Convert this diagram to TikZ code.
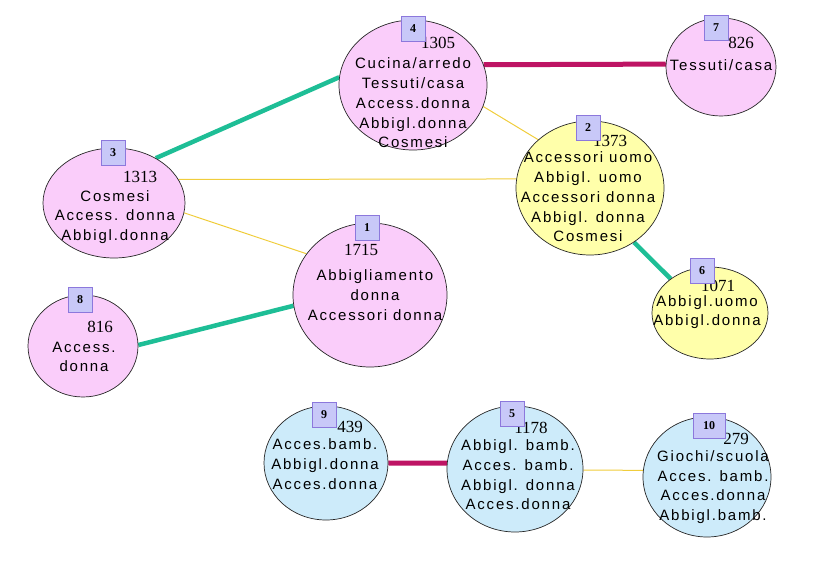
\documentclass[tikz,border=0pt]{standalone}
\usepackage{fontspec}
\setmainfont{Liberation Sans}
\newfontfamily\itemfont{Liberation Sans}[LetterSpace=12]
\newfontfamily\numfont{Liberation Serif}
\usetikzlibrary{shapes.geometric,backgrounds}

\definecolor{pinkfill}{RGB}{250,205,250}
\definecolor{yellowfill}{RGB}{255,255,170}
\definecolor{bluefill}{RGB}{205,235,250}
\definecolor{tagfill}{RGB}{200,200,248}
\definecolor{tagline}{RGB}{140,120,220}
\definecolor{tealline}{RGB}{30,190,150}
\definecolor{wineline}{RGB}{190,20,100}
\definecolor{goldline}{RGB}{240,205,60}

\begin{document}
\begin{tikzpicture}[x=1pt,y=-1pt,
  cluster/.style={ellipse,draw=black!85,line width=0.7pt,inner sep=0pt},
  pinkc/.style={cluster,fill=pinkfill},
  yellowc/.style={cluster,fill=yellowfill},
  bluec/.style={cluster,fill=bluefill},
  tagbox/.style={draw=tagline,fill=tagfill,line width=0.8pt,minimum width=24pt,minimum height=25pt,inner sep=0pt,font=\numfont\bfseries\fontsize{12}{12}\selectfont},
  count/.style={inner sep=0pt,font=\numfont\fontsize{17}{17}\selectfont},
  items/.style={align=center,inner sep=0pt,font=\itemfont\fontsize{15}{19.7}\selectfont},
  tealedge/.style={line width=4.5pt,tealline},
  wineedge/.style={line width=5pt,wineline},
  goldedge/.style={line width=1pt,goldline}]
\useasboundingbox(0,0) rectangle (823,561);

\node[pinkc,minimum width=148pt,minimum height=130pt](n4) at (413,85){};
\node[pinkc,minimum width=110pt,minimum height=98pt](n7) at (721,67){};
\node[pinkc,minimum width=142pt,minimum height=110pt](n3) at (114,203){};
\node[yellowc,minimum width=148pt,minimum height=134pt](n2) at (590,188){};
\node[pinkc,minimum width=154pt,minimum height=144pt](n1) at (370,295){};
\node[pinkc,minimum width=110pt,minimum height=102pt](n8) at (83,346){};
\node[yellowc,minimum width=116pt,minimum height=92pt](n6) at (710,313){};
\node[bluec,minimum width=124pt,minimum height=114pt](n9) at (326,463){};
\node[bluec,minimum width=136pt,minimum height=126pt](n5) at (515,469){};
\node[bluec,minimum width=128pt,minimum height=120pt](n10) at (707,477){};

\begin{scope}[on background layer]
\draw[tealedge](n3.47)--(n4.174);
\draw[wineedge](n4.16)--(n7.177);
\draw[goldedge](n4.-17)--(n2.137);
\draw[goldedge](n3.20)--(n2.173);
\draw[goldedge](n3.-8)--(n1.147);
\draw[tealedge](n8.1)--(n1.188);
\draw[tealedge](n2.-51)--(n6.139);
\draw[wineedge](n9.0)--(n5.175);
\draw[goldedge](n5.-1)--(n10.174);
\end{scope}

\node[items](l4) at (413,103){Cucina/arredo\\Tessuti/casa\\Access.donna\\Abbigl.donna\\Cosmesi};
\node[items](l7) at (721,65){Tessuti/casa};
\node[items](l3) at (115,217){Cosmesi\\Access. donna\\Abbigl.donna};
\node[items](l2) at (588,197){Accessori uomo\\Abbigl. uomo\\Accessori donna\\Abbigl. donna\\Cosmesi};
\node[items](l1) at (375,295){Abbigliamento\\donna\\Accessori donna};
\node[items](l8) at (84,357){Access.\\donna};
\node[items](l6) at (707,312){Abbigl.uomo\\Abbigl.donna};
\node[items](l9) at (325,464){Acces.bamb.\\Abbigl.donna\\Acces.donna};
\node[items](l5) at (518,475){Abbigl. bamb.\\Acces. bamb.\\Abbigl. donna\\Acces.donna};
\node[items](l10) at (713,487){Giochi/scuola\\Acces. bamb.\\Acces.donna\\Abbigl.bamb.};

\node[count](c4) at (438,43){1305};
\node[count](c7) at (741,43){826};
\node[count](c3) at (140,177){1313};
\node[count](c2) at (610,141){1373};
\node[count](c1) at (361,250){1715};
\node[count](c8) at (100,327){816};
\node[count](c6) at (718,286){1071};
\node[count](c9) at (350,427){439};
\node[count](c5) at (531,428){1178};
\node[count](c10) at (736,439){279};

\node[tagbox](t4) at (413,29){4};
\node[tagbox](t7) at (716,28){7};
\node[tagbox](t3) at (113,153){3};
\node[tagbox](t2) at (588,128){2};
\node[tagbox](t1) at (367,228){1};
\node[tagbox](t8) at (80,300){8};
\node[tagbox](t6) at (702,271){6};
\node[tagbox](t9) at (324,415){9};
\node[tagbox](t5) at (512,414){5};
\node[tagbox,minimum width=32pt](t10) at (709,426){10};
\end{tikzpicture}
\end{document}
